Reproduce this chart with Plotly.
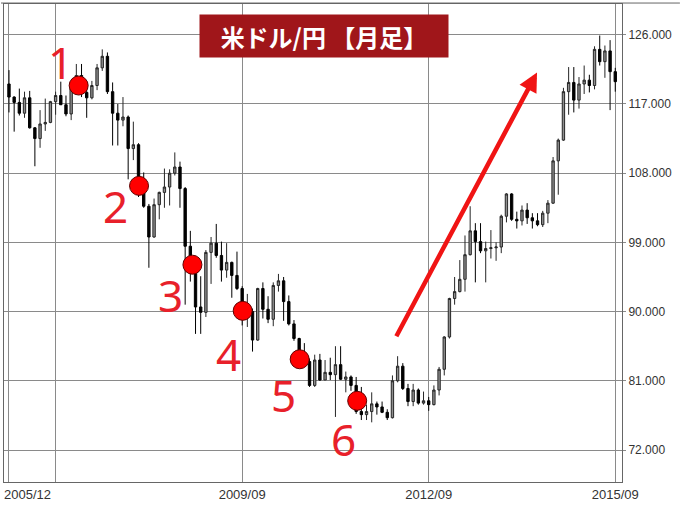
import plotly.graph_objects as go

# ---- data (USD/JPY monthly candles) ----
months = []
for yr in range(2005, 2016):
    for mo in range(1, 13):
        if (yr, mo) >= (2005, 12) and (yr, mo) <= (2015, 9):
            months.append(f"{yr}/{mo:02d}")

opens = [119.6, 117.9, 117.2, 115.8, 117.8, 113.9, 112.5, 114.4, 114.6, 117.3, 118.1, 116.9,
         115.7, 119.0, 120.7, 118.5, 117.8, 119.4, 121.7, 123.2, 118.6, 115.8, 114.9, 115.3,
         111.2, 111.7, 106.4, 103.7, 99.7, 103.9, 105.5, 106.2, 108.0, 108.8, 106.0, 98.5,
         95.5, 90.6, 89.9, 97.7, 98.9, 97.3, 95.4, 96.4, 94.7, 93.0, 89.8, 90.0,
         86.3, 93.0, 90.3, 89.0, 93.4, 94.0, 91.3, 88.4, 86.5, 84.2, 83.5, 80.4,
         83.7, 81.1, 82.1, 81.8, 83.1, 81.2, 81.5, 80.4, 77.0, 76.6, 77.0, 78.0,
         77.6, 76.9, 76.2, 81.0, 82.9, 80.0, 78.3, 79.8, 78.1, 78.4, 77.9, 79.8,
         82.5, 86.7, 91.7, 92.6, 94.2, 97.4, 100.5, 99.1, 97.9, 98.2, 98.3, 98.4,
         102.4, 105.3, 102.0, 101.8, 103.2, 102.2, 101.8, 101.3, 102.8, 104.1, 109.6, 112.3,
         118.6, 119.8, 117.5, 119.6, 120.1, 119.4, 124.1, 122.5, 123.9, 121.2]
highs = [121.4, 118.0, 119.0, 118.6, 118.7, 114.0, 116.2, 117.7, 117.4, 118.6, 119.9, 118.1,
         119.1, 122.2, 122.2, 119.3, 120.0, 122.2, 124.1, 123.7, 119.8, 117.0, 117.9, 115.5,
         114.7, 111.9, 108.1, 104.0, 104.7, 105.6, 108.6, 108.5, 110.7, 109.5, 106.2, 100.5,
         95.9, 94.6, 98.0, 99.7, 101.4, 99.1, 98.9, 96.5, 97.8, 93.3, 92.3, 90.4,
         93.1, 93.8, 92.0, 93.8, 94.9, 94.5, 92.1, 88.9, 86.6, 85.9, 83.9, 84.4,
         84.5, 83.7, 84.0, 85.5, 85.5, 82.2, 81.7, 81.5, 80.2, 77.9, 79.5, 78.3,
         78.3, 77.3, 81.7, 84.2, 83.3, 80.6, 80.6, 80.0, 79.6, 78.9, 80.4, 82.8,
         86.8, 91.8, 94.5, 96.7, 99.9, 103.7, 101.5, 101.5, 99.1, 100.6, 99.0, 102.6,
         105.4, 105.4, 103.0, 103.8, 104.1, 102.8, 102.8, 103.1, 104.5, 110.1, 112.5, 119.1,
         121.8, 121.8, 120.5, 122.0, 120.8, 124.5, 125.9, 124.6, 125.3, 121.7]
lows = [115.9, 113.4, 115.5, 115.2, 113.8, 108.9, 111.3, 113.5, 114.5, 115.6, 116.9, 115.4,
        114.9, 118.5, 117.9, 115.2, 117.6, 118.8, 121.3, 118.3, 111.6, 111.6, 114.1, 107.2,
        109.7, 104.9, 103.5, 95.7, 99.6, 102.0, 103.5, 103.8, 107.7, 103.5, 90.9, 93.9,
        87.1, 87.1, 89.3, 93.6, 97.0, 93.9, 94.4, 91.8, 92.8, 88.2, 88.0, 84.8,
        86.2, 89.1, 88.5, 88.1, 92.6, 88.8, 88.2, 86.2, 83.5, 82.8, 80.2, 80.2,
        81.0, 81.1, 81.1, 76.3, 81.1, 79.5, 79.7, 76.7, 75.9, 75.9, 75.6, 76.6,
        76.8, 75.9, 76.1, 80.8, 79.8, 77.7, 77.7, 77.9, 77.9, 77.1, 77.8, 79.1,
        81.7, 86.5, 90.9, 92.5, 92.6, 97.3, 93.8, 97.6, 93.8, 96.9, 96.6, 97.6,
        101.6, 101.8, 100.8, 101.2, 101.4, 100.8, 101.1, 101.0, 101.5, 104.0, 105.2, 112.2,
        115.6, 115.9, 116.4, 118.3, 118.5, 118.9, 122.0, 120.4, 116.2, 118.6]
closes = [117.9, 117.2, 115.8, 117.8, 113.9, 112.5, 114.4, 114.6, 117.3, 118.1, 116.9, 115.7,
          119.0, 120.7, 118.5, 117.8, 119.4, 121.7, 123.2, 118.6, 115.8, 114.9, 115.3, 111.2,
          111.7, 106.4, 103.7, 99.7, 103.9, 105.5, 106.2, 108.0, 108.8, 106.0, 98.5, 95.5,
          90.6, 89.9, 97.7, 98.9, 97.3, 95.4, 96.4, 94.7, 93.0, 89.8, 90.0, 86.3,
          93.0, 90.3, 89.0, 93.4, 94.0, 91.3, 88.4, 86.5, 84.2, 83.5, 80.4, 83.7,
          81.1, 82.1, 81.8, 83.1, 81.2, 81.5, 80.4, 77.0, 76.6, 77.0, 78.0, 77.6,
          76.9, 76.2, 81.0, 82.9, 80.0, 78.3, 79.8, 78.1, 78.4, 77.9, 79.8, 82.5,
          86.7, 91.7, 92.6, 94.2, 97.4, 100.5, 99.1, 97.9, 98.2, 98.3, 98.4, 102.4,
          105.3, 102.0, 101.8, 103.2, 102.2, 101.8, 101.3, 102.8, 104.1, 109.6, 112.3, 118.6,
          119.8, 117.5, 119.6, 120.1, 119.4, 124.1, 122.5, 123.9, 121.2, 119.9]

# numbered turning points (month position, price)
point_labels = ["1", "2", "3", "4", "5", "6"]
point_x = [13.45, 25.1, 35.4, 45.1, 56.1, 67.2]
point_y = [119.4, 106.35, 96.1, 90.1, 83.8, 78.4]
label_x = [10.0, 20.6, 31.2, 42.4, 53.0, 64.5]
label_y = [122.5, 103.7, 92.1, 84.5, 79.1, 73.4]

# trend arrow (tail -> head)
arrow_tail = (74.6, 86.6)
arrow_head = (101.9, 121.1)

y_ticks = [72, 81, 90, 99, 108, 117, 126]
x_tick_months = ["2005/12", "2006/09", "2009/09", "2012/09", "2015/09"]
x_tick_text = ["", "", "2009/09", "2012/09", "2015/09"]
title_text = "米ドル/円 【月足】"

# ---- figure ----
xpos = list(range(len(months)))
x_tick_vals = [months.index(m) for m in x_tick_months]

fig = go.Figure()
fig.add_trace(go.Candlestick(
    x=xpos, open=opens, high=highs, low=lows, close=closes,
    increasing=dict(line=dict(color="#262626", width=1), fillcolor="#8e8e8e"),
    decreasing=dict(line=dict(color="#000000", width=1), fillcolor="#000000"),
    whiskerwidth=0, showlegend=False, hoverinfo="skip",
))
fig.add_trace(go.Scatter(
    x=point_x, y=point_y, mode="markers",
    marker=dict(size=19, color="#ff0000", line=dict(color="#600000", width=1)),
    showlegend=False, hoverinfo="skip",
))

annotations = []
for t, lx, ly in zip(point_labels, label_x, label_y):
    annotations.append(dict(x=lx, y=ly, xref="x", yref="y", text=t, showarrow=False,
                            font=dict(family="Noto Sans", size=44, color="#e8202a"),
                            xanchor="center", yanchor="middle"))
annotations.append(dict(x=arrow_head[0], y=arrow_head[1], ax=arrow_tail[0], ay=arrow_tail[1],
                        xref="x", yref="y", axref="x", ayref="y", text="", showarrow=True,
                        arrowhead=2, arrowsize=0.85, arrowwidth=4.5, arrowcolor="#f01414"))
annotations.append(dict(x=(324 - 3) / 619, y=(484 - 36) / 480, xref="paper", yref="paper",
                        text="<b>" + title_text + "</b>", showarrow=False,
                        font=dict(family="Noto Sans CJK JP", size=24, color="#ffffff"),
                        bgcolor="#a0161a", width=248, height=42, borderpad=0,
                        xanchor="center", yanchor="middle", align="center", valign="middle"))
annotations.append(dict(x=(27 - 3) / 619, y=-0.006, xref="paper", yref="paper",
                        text=months[0], showarrow=False, xanchor="center", yanchor="top",
                        font=dict(family="Liberation Sans", size=13, color="#333333")))

fig.update_layout(
    width=680, height=505,
    margin=dict(l=3, r=58, t=4, b=21),
    paper_bgcolor="#ffffff", plot_bgcolor="#ffffff",
    boxgap=0.35,
    annotations=annotations,
    shapes=[dict(type="line", xref="paper", yref="paper", x0=-3 / 619, x1=677 / 619,
                 y0=1.002, y1=1.002, line=dict(color="#666666", width=1))],
    xaxis=dict(range=[-0.96, 118.3], tickvals=x_tick_vals, ticktext=x_tick_text,
               showgrid=True, gridcolor="#8a8a8a", gridwidth=1.2, zeroline=False,
               showline=True, mirror=True, linecolor="#666666", linewidth=1,
               rangeslider=dict(visible=False), ticks="",
               tickfont=dict(family="Liberation Sans", size=13, color="#333333"), fixedrange=True),
    yaxis=dict(range=[67.84, 130.0], side="right", tickvals=y_ticks,
               ticktext=[f"{v:.3f}" for v in y_ticks],
               showgrid=True, gridcolor="#8a8a8a", gridwidth=1.2, zeroline=False,
               showline=True, mirror=True, linecolor="#666666", linewidth=1,
               ticks="outside", ticklen=3, tickcolor="#8a8a8a",
               tickfont=dict(family="Liberation Sans", size=12, color="#333333"), fixedrange=True),
)

fig.write_html("out.html", config={"displayModeBar": False},
               post_script="document.body.style.margin='0';document.body.style.padding='0';")
